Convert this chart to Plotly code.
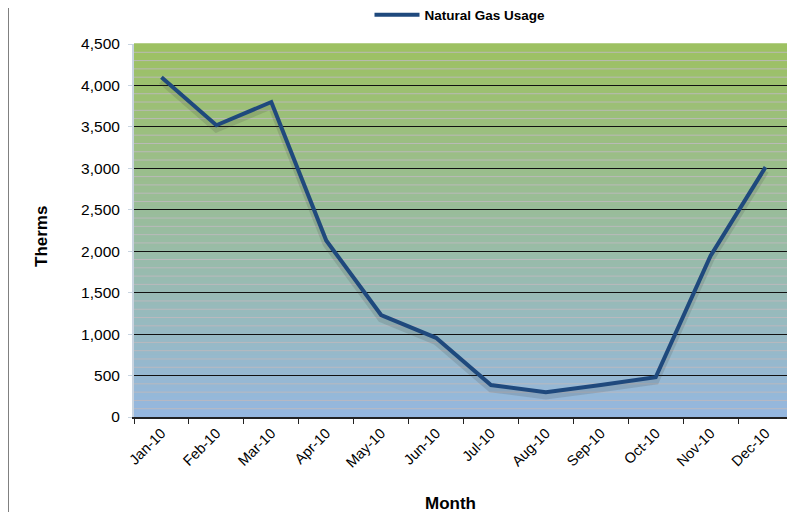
import plotly.graph_objects as go

months = ["Jan-10", "Feb-10", "Mar-10", "Apr-10", "May-10", "Jun-10",
          "Jul-10", "Aug-10", "Sep-10", "Oct-10", "Nov-10", "Dec-10"]
therms = [4100, 3520, 3800, 2130, 1230, 955, 385, 300, 385, 480, 1945, 3015]
y_ticks = [0, 500, 1000, 1500, 2000, 2500, 3000, 3500, 4000, 4500]

top_rgb = (157, 193, 97)
bot_rgb = (149, 183, 224)
FONT = "Liberation Sans, Arial, sans-serif"

W, H = 787, 504
L, R, T, B = 126, 2, 36, 95
PW, PH = W - L - R, H - T - B

fig = go.Figure()

shapes = []
n_bands = 90
for i in range(n_bands):
    t = (i + 0.5) / n_bands
    c = tuple(round(bot_rgb[k] + (top_rgb[k] - bot_rgb[k]) * t) for k in range(3))
    shapes.append(dict(type="rect", xref="paper", yref="paper",
                       x0=0, x1=1, y0=i / n_bands, y1=(i + 1) / n_bands + 0.002,
                       fillcolor="rgb(%d,%d,%d)" % c, line=dict(width=0), layer="below"))
# minor gridlines every 100
for v in range(100, 4500, 100):
    if v % 500 != 0:
        shapes.append(dict(type="line", xref="paper", yref="y", x0=0, x1=1, y0=v, y1=v,
                           line=dict(color="rgba(190,185,190,0.9)", width=1), layer="below"))
# left outer border
bx = (0.5 - L) / PW
shapes.append(dict(type="line", xref="paper", yref="paper", x0=bx, x1=bx,
                   y0=-B / PH, y1=1 + T / PH, line=dict(color="#808080", width=1)))

# shadow line
fig.add_trace(go.Scatter(x=months, y=[v - 45 for v in therms], mode="lines",
                         line=dict(color="rgba(60,60,60,0.16)", width=7),
                         hoverinfo="skip", showlegend=False))
fig.add_trace(go.Scatter(x=months, y=therms, mode="lines", name="<b>Natural Gas Usage</b>",
                         line=dict(color="#1F497D", width=4)))

annotations = [
    dict(text="<b>Month</b>", xref="paper", yref="paper", x=(442 - L) / PW, y=-(495 - T - PH) / PH,
         xanchor="center", yanchor="middle", showarrow=False, font=dict(size=17, family=FONT)),
    dict(text="<b>Therms</b>", xref="paper", yref="paper", x=(33 - L) / PW, y=1 - (229 - T) / PH,
         xanchor="center", yanchor="middle", showarrow=False, textangle=-90,
         font=dict(size=17, family=FONT)),
]

fig.update_layout(
    width=W, height=H,
    margin=dict(l=L, r=R, t=T, b=B),
    paper_bgcolor="white", plot_bgcolor="rgba(0,0,0,0)",
    shapes=shapes, annotations=annotations,
    font=dict(family=FONT, color="black"),
    showlegend=True,
    legend=dict(orientation="h", x=(452 - L) / PW, xanchor="center", y=1 - 7 / H, yref="container",
                yanchor="middle", font=dict(size=13.5, family=FONT),
                itemwidth=45, bgcolor="rgba(0,0,0,0)"),
    xaxis=dict(tickangle=-45, tickfont=dict(size=14.5), showgrid=False, automargin=False,
               showline=True, linecolor="#222", linewidth=2,
               ticks="outside", ticklen=5, tickcolor="#222", tickson="boundaries",
               range=[-0.5, 11.5]),
    yaxis=dict(range=[0, 4500], tickvals=y_ticks, tickformat=",", automargin=False,
               tickfont=dict(size=15.5), showgrid=True, gridcolor="#111", gridwidth=1,
               showline=True, linecolor="#C8D4E0", linewidth=2, ticklabelstandoff=5,
               ticks="outside", ticklen=4, tickcolor="#C8D4E0", zeroline=False),
)

fig.write_html("out.html")
